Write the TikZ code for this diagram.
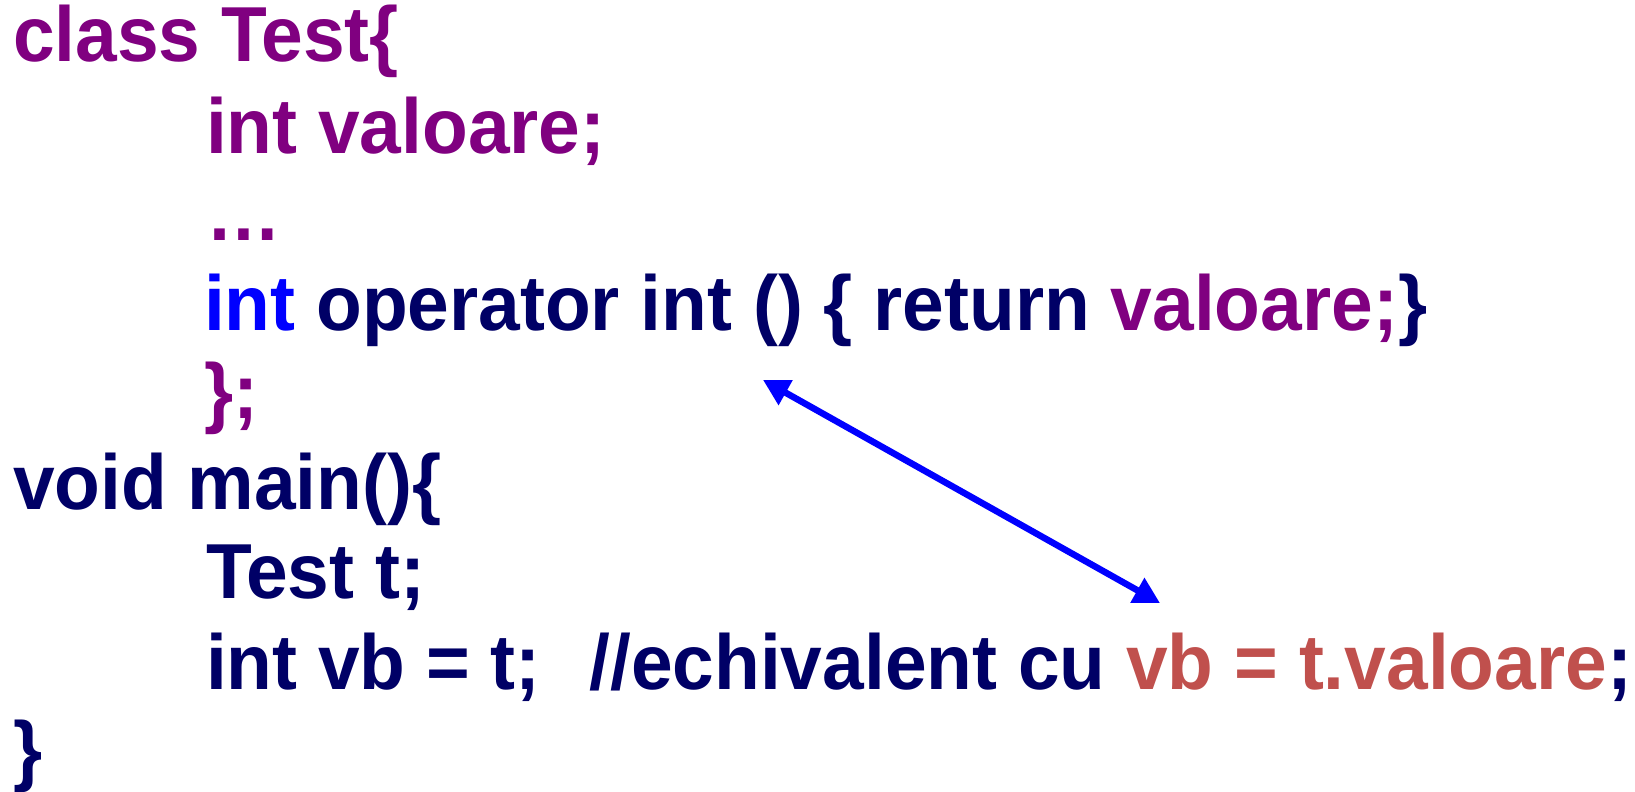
\documentclass[tikz,border=0pt]{standalone}
\usepackage{fontspec}
\setmainfont{Liberation Sans}[FakeStretch=0.96]
\usetikzlibrary{arrows.meta}
\definecolor{purp}{RGB}{128,0,128}
\definecolor{navy}{RGB}{0,0,102}
\definecolor{kw}{RGB}{0,0,255}
\definecolor{hint}{RGB}{192,80,77}
\begin{document}
\begin{tikzpicture}[x=1pt,y=-1pt,
  code/.style={anchor=base west,inner sep=0pt,outer sep=0pt,
    font=\fontsize{78}{89}\selectfont\bfseries},
  link/.style={draw=kw,line width=6.5pt,
    {Triangle[length=26pt,width=27pt]}-{Triangle[length=26pt,width=27pt]}}]
\useasboundingbox (0,0) rectangle (1635,792);
% class definition
\node[code] (l1) at (13,62) {\color{purp}class Test\{};
\node[code] (l2) at (206,153) {\color{purp}int valoare;};
\node[code] (l3) at (206,240) {\color{purp}\dots};
\node[code] (l4) at (204,330) {\textcolor{kw}{int} \textcolor{navy}{operator int () \{ return} \textcolor{purp}{valoare;}\textcolor{navy}{\}}};
\node[code] (l5) at (204,418) {\color{purp}\};};
% main function
\node[code] (l6) at (13,509) {\color{navy}void main()\{};
\node[code] (l7) at (206,598) {\color{navy}Test t;};
\node[code] (l8) at (206,689) {\textcolor{navy}{int vb = t;\ \ \kern7pt//echivalent cu} \textcolor{hint}{vb = t.valoare}\textcolor{navy}{;}};
\node[code] (l9) at (13,776) {\color{navy}\}};
% conversion operator <-> equivalent member access
\coordinate (opcall) at (763,380);
\coordinate (member) at (1160,603);
\draw[link] (opcall) -- (member);
\end{tikzpicture}
\end{document}
